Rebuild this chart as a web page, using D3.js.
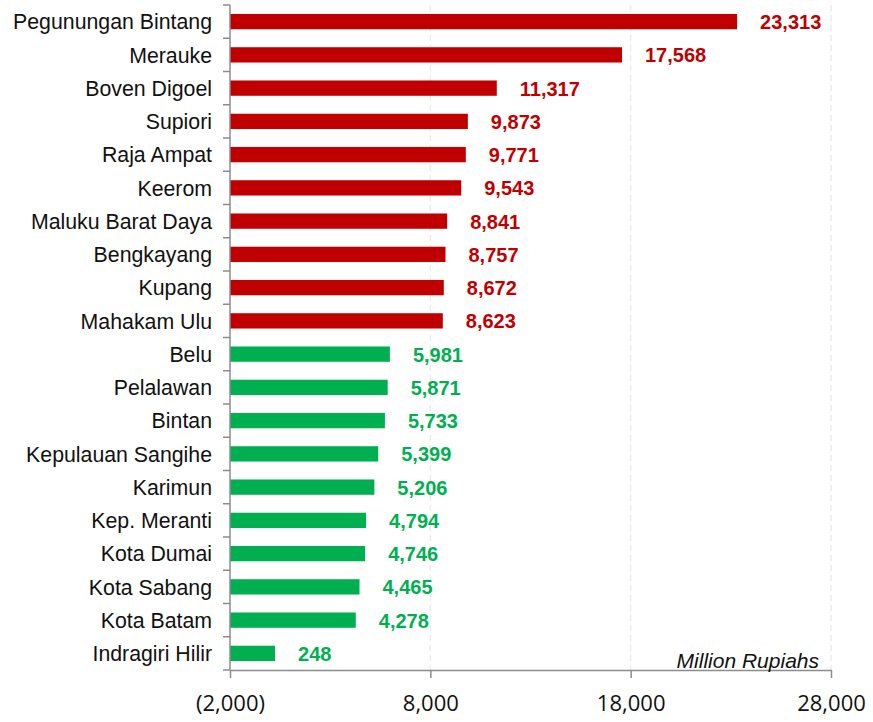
<html>
<head>
<meta charset="utf-8">
<title>Regions bar chart</title>
<script src="https://d3js.org/d3.v7.min.js"></script>
<style>
  body { margin:0; background:#fff; }
  .cat { font-family:"Liberation Sans", Arial, sans-serif; font-size:21.3px; fill:#111; }
  .val { font-family:"Liberation Sans", Arial, sans-serif; font-size:20px; font-weight:bold; }
  .tick-lbl { font-family:"Open Sans", "Noto Sans", sans-serif; font-size:22px; fill:#111; }
  .unit { font-family:"Liberation Sans", Arial, sans-serif; font-size:21px; font-style:italic; fill:#111; }
</style>
</head>
<body>
<svg width="873" height="722"></svg>
<script>
// data
var regions = ["Pegunungan Bintang","Merauke","Boven Digoel","Supiori","Raja Ampat","Keerom",
  "Maluku Barat Daya","Bengkayang","Kupang","Mahakam Ulu","Belu","Pelalawan","Bintan",
  "Kepulauan Sangihe","Karimun","Kep. Meranti","Kota Dumai","Kota Sabang","Kota Batam","Indragiri Hilir"];
var values = [23313,17568,11317,9873,9771,9543,8841,8757,8672,8623,
  5981,5871,5733,5399,5206,4794,4746,4465,4278,248];
var groups = ["top","top","top","top","top","top","top","top","top","top",
  "low","low","low","low","low","low","low","low","low","low"];
var xTicks = [-2000, 8000, 18000, 28000];

var colors = { top:"#C00000", low:"#00B050" };

var svg = d3.select("svg");

var x = d3.scaleLinear().domain([-2000, 28000]).range([230, 831]);
var y = d3.scaleBand().domain(regions).range([5, 670]).paddingInner(0.54).paddingOuter(0.27);

var fmt = function(v){
  var s = d3.format(",")(Math.abs(v));
  return v < 0 ? "(" + s + ")" : s;
};

// dashed gridlines
svg.append("g").selectAll("line")
  .data(xTicks.slice(1))
  .enter().append("line")
  .attr("x1", function(d){ return x(d); })
  .attr("x2", function(d){ return x(d); })
  .attr("y1", 5).attr("y2", 670)
  .attr("stroke", "#ececec")
  .attr("stroke-width", 1.5)
  .attr("stroke-dasharray", "6,4");

// bars
svg.append("g").selectAll("rect")
  .data(regions)
  .enter().append("rect")
  .attr("x", x(-2000))
  .attr("y", function(d){ return y(d); })
  .attr("width", function(d,i){ return x(values[i]) - x(-2000); })
  .attr("height", y.bandwidth())
  .attr("fill", function(d,i){ return colors[groups[i]]; });

// value labels
svg.append("g").selectAll("text")
  .data(regions)
  .enter().append("text")
  .attr("class", "val")
  .attr("x", function(d,i){ return x(values[i]) + 23; })
  .attr("y", function(d){ return y(d) + y.bandwidth()/2; })
  .attr("dy", "0.38em")
  .attr("fill", function(d,i){ return colors[groups[i]]; })
  .text(function(d,i){ return fmt(values[i]); });

// category labels
svg.append("g").selectAll("text")
  .data(regions)
  .enter().append("text")
  .attr("class", "cat")
  .attr("x", 212)
  .attr("y", function(d){ return y(d) + y.bandwidth()/2; })
  .attr("dy", "0.36em")
  .attr("text-anchor", "end")
  .text(function(d){ return d; });

// left axis with ticks at band boundaries
var bounds = d3.range(regions.length + 1).map(function(i){ return 5 + i * y.step(); });
var axisCol = "#8c8c8c";
svg.append("line")
  .attr("x1", 230).attr("x2", 230).attr("y1", 5).attr("y2", 670)
  .attr("stroke", axisCol).attr("stroke-width", 1.5);
svg.append("g").selectAll("line")
  .data(bounds)
  .enter().append("line")
  .attr("x1", 223).attr("x2", 230)
  .attr("y1", function(d){ return d; }).attr("y2", function(d){ return d; })
  .attr("stroke", axisCol).attr("stroke-width", 1.5);

// bottom axis
var xAxis = svg.append("g")
  .attr("transform", "translate(0,670)")
  .call(d3.axisBottom(x).tickValues(xTicks).tickSize(8).tickSizeOuter(0).tickPadding(17).tickFormat(fmt));
xAxis.select(".domain").attr("stroke", axisCol).attr("stroke-width", 1.5);
xAxis.selectAll(".tick line").attr("stroke", axisCol).attr("stroke-width", 1.5);
xAxis.selectAll(".tick text").attr("class", "tick-lbl").attr("fill", "#111");

svg.append("text")
  .attr("class", "unit")
  .attr("x", 819).attr("y", 668)
  .attr("text-anchor", "end")
  .text("Million Rupiahs");
</script>
</body>
</html>
